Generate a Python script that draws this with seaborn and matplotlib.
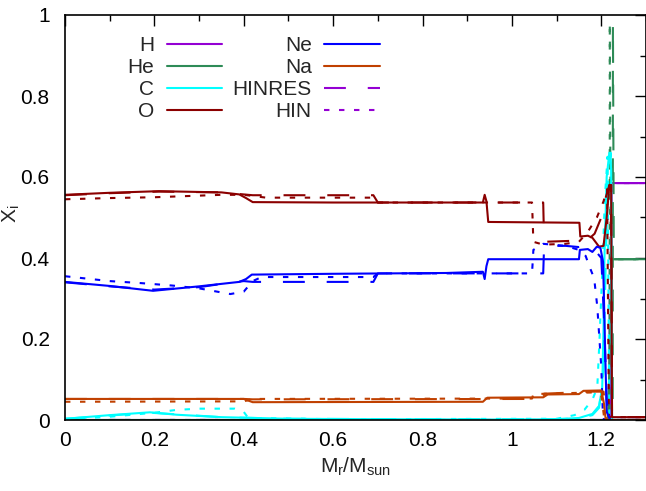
import numpy as np
import pandas as pd
import matplotlib
matplotlib.use("Agg")
import matplotlib.pyplot as plt
from matplotlib.lines import Line2D
from matplotlib.ticker import FixedLocator, MultipleLocator
import seaborn as sns

# ---------------- data ----------------
species = ["H", "He", "C", "O", "Ne", "Na"]
models = ["main", "HINRES", "HIN"]

# main model (solid)
h_x = [0, 1.221, 1.223, 1.3]
h_y = [0, 0, 0.585, 0.585]
he_x = [0, 1.215, 1.222, 1.224, 1.3]
he_y = [0, 0, 0.30, 0.397, 0.397]
c_x = [0, 0.1, 0.19, 0.25, 0.35, 0.5, 0.7, 1.0, 1.1, 1.15, 1.18, 1.195, 1.202, 1.205, 1.207, 1.212, 1.218, 1.222, 1.224, 1.3]
c_y = [0.003, 0.012, 0.019, 0.013, 0.007, 0.003, 0.002, 0.001, 0.002, 0.005, 0.015, 0.035, 0.08, 0.23, 0.4, 0.6, 0.66, 0.62, 0.0, 0.0]
o_x = [0, 0.1, 0.21, 0.35, 0.39, 0.405, 0.42, 0.6, 0.935, 0.939, 0.943, 0.947, 1.151, 1.153, 1.17, 1.18, 1.195, 1.205, 1.212, 1.218, 1.222, 1.224, 1.3]
o_y = [0.556, 0.561, 0.565, 0.562, 0.557, 0.548, 0.538, 0.537, 0.537, 0.556, 0.54, 0.489, 0.487, 0.453, 0.455, 0.45, 0.428, 0.43, 0.5, 0.58, 0.58, 0.007, 0.007]
ne_x = [0, 0.1, 0.197, 0.3, 0.39, 0.405, 0.418, 0.6, 0.853, 0.935, 0.939, 0.943, 0.947, 1.15, 1.152, 1.17, 1.18, 1.19, 1.198, 1.204, 1.208, 1.212, 1.22, 1.3]
ne_y = [0.341, 0.331, 0.319, 0.33, 0.341, 0.348, 0.359, 0.361, 0.363, 0.366, 0.348, 0.38, 0.397, 0.397, 0.42, 0.422, 0.415, 0.428, 0.425, 0.39, 0.2, 0.02, 0.0, 0.0]
na_x = [0, 0.4, 0.42, 0.935, 0.945, 1.07, 1.08, 1.15, 1.16, 1.2, 1.206, 1.21, 1.3]
na_y = [0.052, 0.052, 0.044, 0.045, 0.055, 0.056, 0.063, 0.064, 0.072, 0.073, 0.04, 0.0, 0.0]

# HINRES model (dashed)
h_r_x = [0, 1.22, 1.222, 1.3]
h_r_y = [0, 0, 0.585, 0.585]
he_r_x = [0, 1.2255, 1.226, 1.228, 1.3]
he_r_y = [0, 0, 0.98, 0.397, 0.397]
c_r_x = [0, 0.1, 0.19, 0.25, 0.35, 0.5, 0.8, 1.1, 1.15, 1.18, 1.195, 1.205, 1.21, 1.216, 1.221, 1.224, 1.3]
c_r_y = [0.003, 0.011, 0.018, 0.014, 0.007, 0.003, 0.002, 0.002, 0.004, 0.012, 0.03, 0.12, 0.4, 0.62, 0.66, 0.0, 0.0]
o_r_x = [0, 0.1, 0.21, 0.35, 0.4, 0.42, 0.69, 0.70, 1.07, 1.072, 1.15, 1.17, 1.185, 1.2, 1.21, 1.218, 1.222, 1.224, 1.3]
o_r_y = [0.555, 0.56, 0.564, 0.562, 0.557, 0.555, 0.555, 0.537, 0.537, 0.44, 0.443, 0.445, 0.46, 0.5, 0.55, 0.58, 0.58, 0.007, 0.007]
ne_r_x = [0, 0.1, 0.2, 0.3, 0.35, 0.4, 0.42, 0.69, 0.70, 1.07, 1.072, 1.12, 1.15, 1.17, 1.185, 1.2, 1.206, 1.212, 1.218, 1.3]
ne_r_y = [0.34, 0.33, 0.322, 0.328, 0.336, 0.343, 0.341, 0.341, 0.362, 0.362, 0.43, 0.43, 0.427, 0.43, 0.42, 0.4, 0.25, 0.05, 0.0, 0.0]
na_r_x = [0, 0.4, 0.42, 1.07, 1.072, 1.18, 1.205, 1.212, 1.3]
na_r_y = [0.052, 0.052, 0.051, 0.052, 0.065, 0.07, 0.07, 0.0, 0.0]

# HIN model (dotted)
h_h_x = [0, 1.218, 1.22, 1.3]
h_h_y = [0, 0, 0.585, 0.585]
he_h_x = [0, 1.2185, 1.219, 1.221, 1.3]
he_h_y = [0, 0, 0.98, 0.397, 0.397]
c_h_x = [0, 0.1, 0.2, 0.25, 0.3, 0.38, 0.4, 0.41, 0.6, 1.1, 1.14, 1.162, 1.18, 1.191, 1.196, 1.2, 1.203, 1.208, 1.214, 1.218, 1.3]
c_h_y = [0.002, 0.008, 0.018, 0.025, 0.028, 0.028, 0.02, 0.005, 0.002, 0.003, 0.012, 0.025, 0.05, 0.08, 0.2, 0.31, 0.39, 0.55, 0.65, 0.0, 0.0]
o_h_x = [0, 0.1, 0.2, 0.35, 0.4, 0.45, 0.69, 0.70, 1.045, 1.048, 1.07, 1.12, 1.15, 1.17, 1.19, 1.205, 1.213, 1.217, 1.3]
o_h_y = [0.545, 0.548, 0.55, 0.556, 0.556, 0.549, 0.549, 0.537, 0.537, 0.44, 0.433, 0.435, 0.44, 0.465, 0.5, 0.54, 0.57, 0.007, 0.007]
ne_h_x = [0, 0.1, 0.17, 0.24, 0.3, 0.34, 0.37, 0.4, 0.42, 0.44, 0.69, 0.70, 1.045, 1.048, 1.07, 1.12, 1.15, 1.165, 1.173, 1.184, 1.191, 1.2, 1.203, 1.206, 1.3]
ne_h_y = [0.355, 0.343, 0.338, 0.332, 0.325, 0.317, 0.311, 0.317, 0.343, 0.353, 0.353, 0.362, 0.362, 0.42, 0.435, 0.43, 0.42, 0.405, 0.38, 0.35, 0.28, 0.13, 0.03, 0.0, 0.0]
na_h_x = [0, 0.4, 0.42, 1.045, 1.048, 1.18, 1.2, 1.207, 1.3]
na_h_y = [0.045, 0.046, 0.052, 0.053, 0.064, 0.068, 0.06, 0.0, 0.0]

x_ticks = [0, 0.2, 0.4, 0.6, 0.8, 1.0, 1.2]
x_tick_labels = ["0", "0.2", "0.4", "0.6", "0.8", "1", "1.2"]
y_ticks = [0, 0.2, 0.4, 0.6, 0.8, 1.0]
y_tick_labels = ["0", "0.2", "0.4", "0.6", "0.8", "1"]

# ---------------- build table ----------------
series = {
    ("main", "H"): (h_x, h_y), ("main", "He"): (he_x, he_y), ("main", "C"): (c_x, c_y),
    ("main", "O"): (o_x, o_y), ("main", "Ne"): (ne_x, ne_y), ("main", "Na"): (na_x, na_y),
    ("HINRES", "H"): (h_r_x, h_r_y), ("HINRES", "He"): (he_r_x, he_r_y), ("HINRES", "C"): (c_r_x, c_r_y),
    ("HINRES", "O"): (o_r_x, o_r_y), ("HINRES", "Ne"): (ne_r_x, ne_r_y), ("HINRES", "Na"): (na_r_x, na_r_y),
    ("HIN", "H"): (h_h_x, h_h_y), ("HIN", "He"): (he_h_x, he_h_y), ("HIN", "C"): (c_h_x, c_h_y),
    ("HIN", "O"): (o_h_x, o_h_y), ("HIN", "Ne"): (ne_h_x, ne_h_y), ("HIN", "Na"): (na_h_x, na_h_y),
}
frames = []
for (m, s), (xs, ys) in series.items():
    frames.append(pd.DataFrame({"x": xs, "y": ys, "species": s, "model": m}))
df = pd.concat(frames, ignore_index=True)

# ---------------- style ----------------
sns.set_theme(style="white")
plt.rcParams["font.family"] = ["Liberation Sans", "DejaVu Sans"]
plt.rcParams["mathtext.fontset"] = "custom"
plt.rcParams["mathtext.rm"] = "Liberation Sans"
plt.rcParams["mathtext.it"] = "Liberation Sans"

FS = 15
palette = {"H": "#9400D3", "He": "#2E8B57", "C": "#00FFFF",
           "O": "#8B0000", "Ne": "#0000FF", "Na": "#C04000"}
dashes = {"main": "", "HINRES": (10.5, 10.5), "HIN": (2.6, 4.6)}

fig = plt.figure(figsize=(6.46, 4.91), dpi=100)
ax = fig.add_axes([65 / 646, 71 / 491, 581 / 646, 405 / 491])

sns.lineplot(data=df, x="x", y="y", hue="species", style="model",
             hue_order=species, style_order=models, palette=palette,
             dashes=dashes, sort=False, estimator=None, lw=1.5,
             legend=False, ax=ax)

ax.set_xlim(0, 1.3)
ax.set_ylim(0, 1)
ax.xaxis.set_major_locator(FixedLocator(x_ticks))
ax.set_xticklabels(x_tick_labels)
ax.yaxis.set_major_locator(FixedLocator(y_ticks))
ax.set_yticklabels(y_tick_labels)
ax.xaxis.set_minor_locator(MultipleLocator(0.1))
ax.yaxis.set_minor_locator(MultipleLocator(0.1))
ax.tick_params(which="both", direction="in", top=True, right=True,
               labelsize=FS, colors="black", width=1)
ax.tick_params(which="major", length=8)
ax.tick_params(which="minor", length=4.5)
ax.tick_params(axis="x", which="major", pad=8)
ax.tick_params(axis="y", which="major", pad=11)
for sp in ax.spines.values():
    sp.set_color("black")
    sp.set_linewidth(1.2)

ax.set_xlabel(r"M$_\mathregular{r}$/M$_\mathregular{sun}$", fontsize=FS, labelpad=4)
ax.set_ylabel(r"X$_\mathregular{i}$", fontsize=FS)
ax.yaxis.set_label_coords(-0.074, 0.51)

handles = [Line2D([], [], color=palette[s], lw=1.5) for s in ["H", "He", "C", "O", "Ne", "Na"]]
handles.append(Line2D([], [], color=palette["H"], lw=1.5, dashes=dashes["HINRES"]))
handles.append(Line2D([], [], color=palette["H"], lw=1.5, dashes=dashes["HIN"]))
labels = ["H", "He", "C", "O", "Ne", "Na", "HINRES", "HIN"]
ax.legend(handles, labels, ncol=2, markerfirst=False, frameon=False,
          loc="upper left", bbox_to_anchor=(0.108, 0.948), borderaxespad=0,
          borderpad=0, fontsize=FS, handlelength=2.65, handletextpad=0.6,
          columnspacing=0.5, labelspacing=0.15)

fig.savefig("out.png", dpi=100)
